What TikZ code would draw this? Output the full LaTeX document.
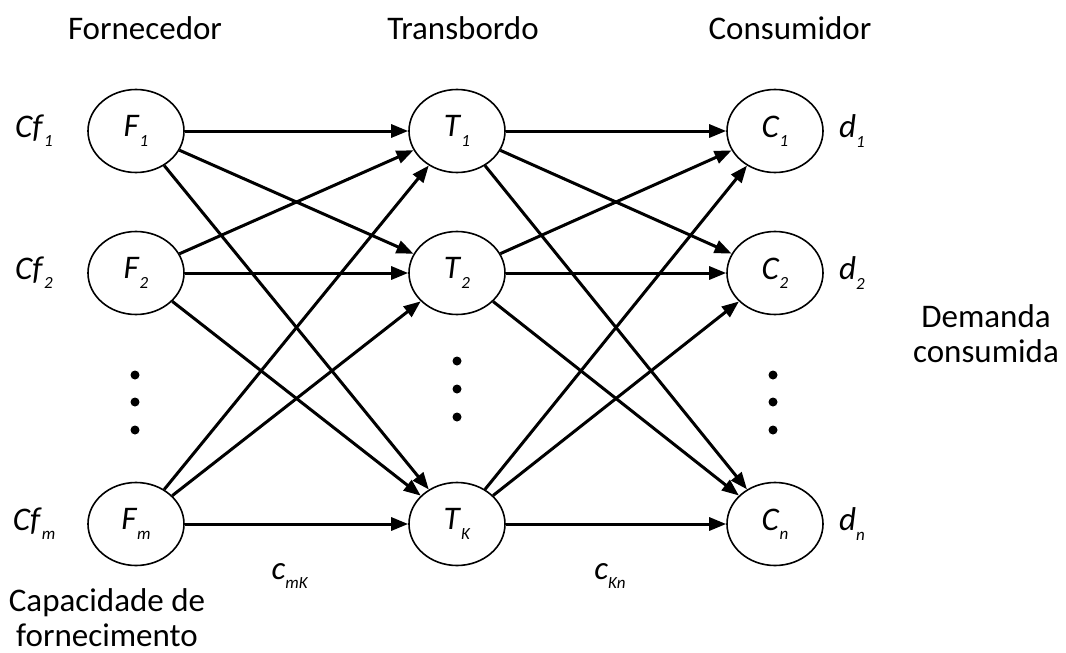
\documentclass[tikz,border=0pt]{standalone}
\usepackage{fontspec}
\setmainfont{Carlito}
\usetikzlibrary{arrows.meta,shapes.geometric}
\newcommand{\lbsub}[2]{\textit{#1}\raisebox{-0.28em}{\fontsize{17}{17}\selectfont\textit{#2}}}
\begin{document}
\begin{tikzpicture}[x=1pt,y=-1pt,
  nd/.style={ellipse, draw, line width=1.6pt, minimum width=96pt, minimum height=83pt, inner sep=0pt, font=\fontsize{33}{33}\selectfont},
  txt/.style={font=\fontsize{33}{35}\selectfont, align=center},
  arr/.style={-{Triangle[length=17pt,width=13pt]}, line width=3pt},
  dot/.style={circle, fill=black, inner sep=0pt, minimum size=9pt}]
\useasboundingbox (0,0) rectangle (1066,653);
% nodes
\node[nd] (F1) at (136,131) {\lbsub{F}{1}};
\node[nd] (F2) at (136,273) {\lbsub{F}{2}};
\node[nd] (Fm) at (136,524) {\lbsub{F}{m}};
\node[nd] (T1) at (457,131) {\lbsub{T}{1}};
\node[nd] (T2) at (457,273) {\lbsub{T}{2}};
\node[nd] (TK) at (457,524) {\lbsub{T}{K}};
\node[nd] (C1) at (775,131) {\lbsub{C}{1}};
\node[nd] (C2) at (775,273) {\lbsub{C}{2}};
\node[nd] (Cn) at (775,524) {\lbsub{C}{n}};
% dots
\node[dot] (fd1) at (135,375) {};
\node[dot] (fd2) at (135,402) {};
\node[dot] (fd3) at (135,430) {};
\node[dot] (td1) at (457,361) {};
\node[dot] (td2) at (457,389) {};
\node[dot] (td3) at (457,417) {};
\node[dot] (cd1) at (773,375) {};
\node[dot] (cd2) at (773,402) {};
\node[dot] (cd3) at (773,430) {};
% side labels
\node[txt] (cf1) at (34,131) {\lbsub{Cf}{1}};
\node[txt] (cf2) at (34,273) {\lbsub{Cf}{2}};
\node[txt] (cfm) at (34,524) {\lbsub{Cf}{m}};
\node[txt] (d1) at (852,131) {\lbsub{d}{1}};
\node[txt] (d2) at (852,273) {\lbsub{d}{2}};
\node[txt] (dn) at (852,524) {\lbsub{d}{n}};
% titles
\node[txt] (tf) at (145,28) {Fornecedor};
\node[txt] (tt) at (463,28) {Transbordo};
\node[txt] (tc) at (790,28) {Consumidor};
\node[txt] (dem) at (986,334) {Demanda\\consumida};
\node[txt] (cap) at (107,618) {Capacidade de\\fornecimento};
\node[txt] (cmk) at (290,576) {\lbsub{c}{mK}};
\node[txt] (ckn) at (610,576) {\lbsub{c}{Kn}};
% edges
\foreach \a in {F1,F2,Fm}{
  \foreach \b in {T1,T2,TK}{
    \draw[arr] (\a) -- (\b);
  }
}
\foreach \a in {T1,T2,TK}{
  \foreach \b in {C1,C2,Cn}{
    \draw[arr] (\a) -- (\b);
  }
}
\end{tikzpicture}
\end{document}
